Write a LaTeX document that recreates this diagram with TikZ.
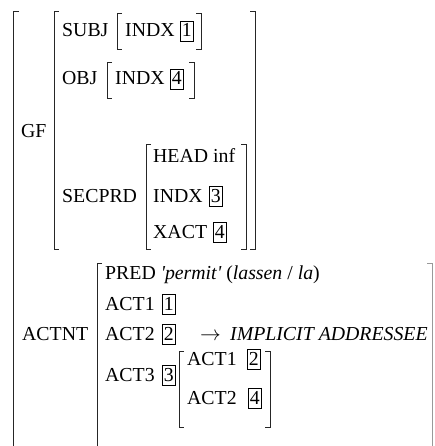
\documentclass[tikz,border=0pt]{standalone}
\usepackage{fontspec}
\setmainfont{Liberation Serif}
\newfontfamily\rawserif{Liberation Serif}
\newcommand{\sq}{{\rawserif\itshape '}}
\begin{document}
\begin{tikzpicture}[x=1pt,y=-1pt,
  tx/.style={anchor=base west, inner sep=0pt, font=\fontsize{19.8}{23}\selectfont},
  bx/.style={tx, draw, line width=0.8pt, inner xsep=1.5pt, inner ysep=2pt, text height=14pt, text depth=2pt},
  brk/.style={line width=0.95pt, black!85},
  faint/.style={line width=0.8pt, black!40}]
\useasboundingbox (0,0) rectangle (434,446);

% outer bracket
\draw[brk] (19,11) -- (13,11) -- (13,446);

% GF brackets
\draw[brk] (59,11) -- (54,11) -- (54,249) -- (59,249);
\draw[brk] (250,11) -- (255,11) -- (255,249) -- (250,249);
\node[tx] (gf) at (21,138) {GF};

% SUBJ
\node[tx] (subj) at (62,37) {SUBJ};
\node[tx] (subjindx) at (125,37) {INDX};
\node[bx] (sb1) at (180,37) {1};
\draw[brk] (122,13) -- (117,13) -- (117,49) -- (122,49);
\draw[brk] (196,13) -- (201,13) -- (201,49) -- (196,49);

% OBJ
\node[tx] (obj) at (62,85) {OBJ};
\node[tx] (objindx) at (115,85) {INDX};
\node[bx] (ob4) at (170,85) {4};
\draw[brk] (112,62) -- (107,62) -- (107,98) -- (112,98);
\draw[brk] (189,62) -- (194,62) -- (194,98) -- (189,98);

% SECPRD
\node[tx] (secprd) at (62,202) {SECPRD};
\node[tx] (head) at (153,163) {HEAD inf};
\node[tx] (sindx) at (153,202) {INDX};
\node[bx] (sb3) at (209,202) {3};
\node[tx] (xact) at (153,238) {XACT};
\node[bx] (xb4) at (213,238) {4};
\draw[brk] (151,144) -- (146,144) -- (146,249) -- (151,249);
\draw[brk] (241,144) -- (246,144) -- (246,249) -- (241,249);

% ACTNT
\node[tx] (actnt) at (22,340) {ACTNT};
\draw[brk] (102,263) -- (97,263) -- (97,446);
\draw[faint] (427,263) -- (432,263) -- (432,446);

\node[tx] (pred) at (105,279) {PRED \sq\textit{permit}\sq{} (\textit{lassen} / \textit{la})};
\node[tx] (act1) at (105,310) {ACT1};
\node[bx] (ab1) at (162,310) {1};
\node[tx] (act2) at (105,340) {ACT2};
\node[bx] (ab2) at (162,340) {2};
\node[tx] (arr) at (200,340) {$\rightarrow$};
\node[tx] (impl) at (230,340) {\textit{IMPLICIT ADDRESSEE}};
\node[tx] (act3) at (105,381) {ACT3};
\node[bx] (ab3) at (162,381) {3};

% nested ACT3 value
\draw[brk] (184,351) -- (179,351) -- (179,427) -- (184,427);
\draw[brk] (265,351) -- (270,351) -- (270,427) -- (265,427);
\node[tx] (iact1) at (187,365) {ACT1};
\node[bx] (ib2) at (247,365) {2};
\node[tx] (iact2) at (187,404) {ACT2};
\node[bx] (ib4) at (248,404) {4};
\end{tikzpicture}
\end{document}
